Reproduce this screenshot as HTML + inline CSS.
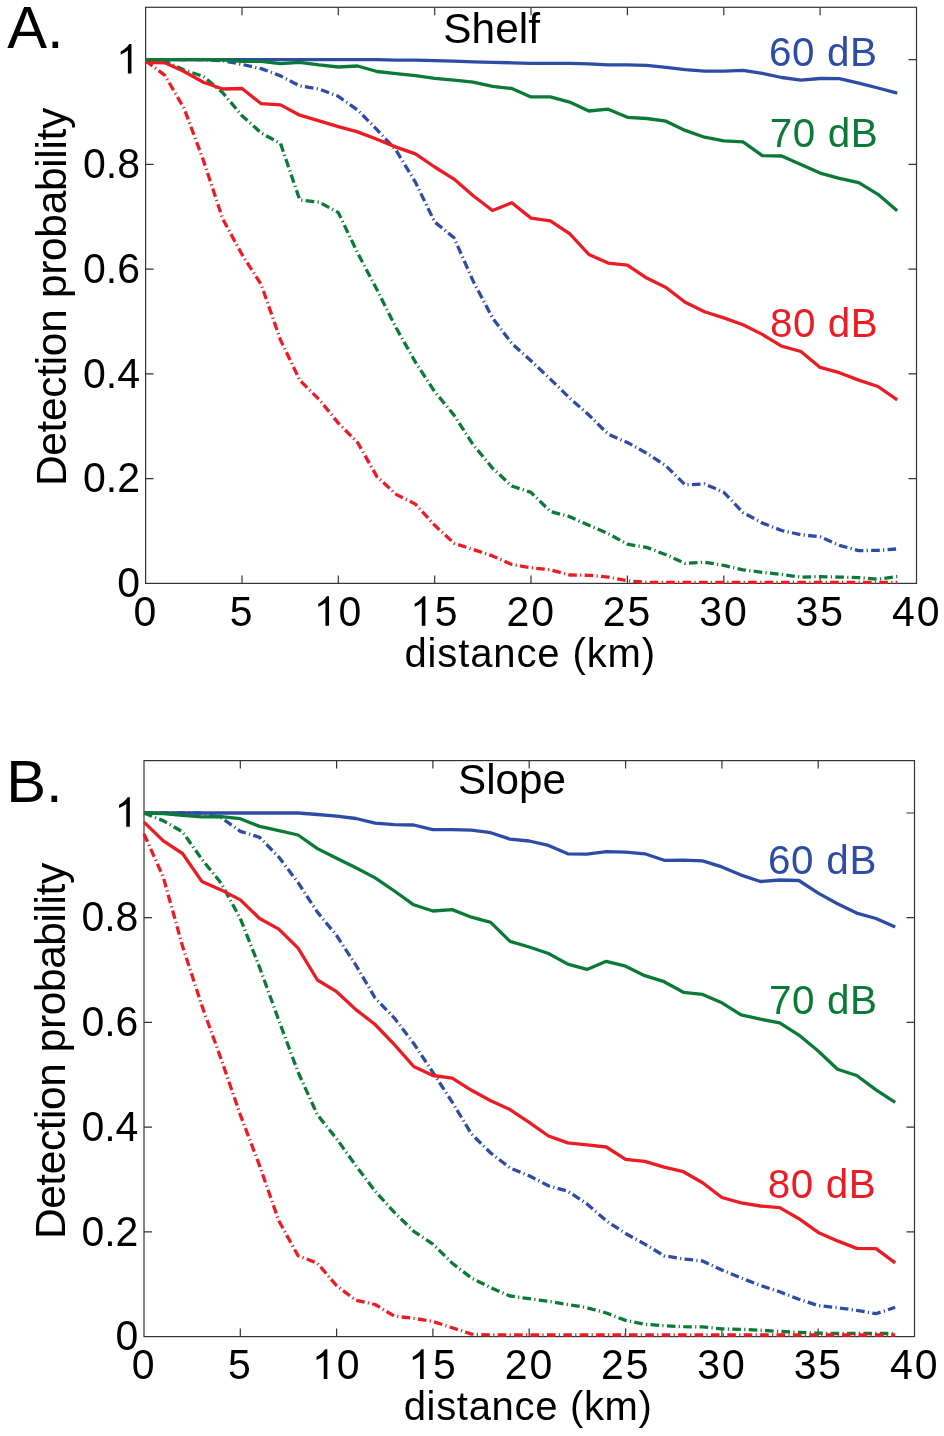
<!DOCTYPE html>
<html><head><meta charset="utf-8"><style>
html,body{margin:0;padding:0;background:#fff;}
svg{display:block;will-change:transform;font-family:'Liberation Sans',sans-serif}
</style></head><body>
<svg width="944" height="1436" viewBox="0 0 944 1436">
<rect width="944" height="1436" fill="#fff"/>
<rect x="145.6" y="7.3" width="770.9" height="576.1" fill="none" stroke="#333" stroke-width="1.2"/>
<path d="M242.0 583.4V575.4M242.0 7.3V15.3M338.3 583.4V575.4M338.3 7.3V15.3M434.7 583.4V575.4M434.7 7.3V15.3M531.0 583.4V575.4M531.0 7.3V15.3M627.4 583.4V575.4M627.4 7.3V15.3M723.8 583.4V575.4M723.8 7.3V15.3M820.1 583.4V575.4M820.1 7.3V15.3M145.6 478.7H153.6M916.5 478.7H908.5M145.6 373.9H153.6M916.5 373.9H908.5M145.6 269.2H153.6M916.5 269.2H908.5M145.6 164.4H153.6M916.5 164.4H908.5M145.6 59.7H153.6M916.5 59.7H908.5" stroke="#333" stroke-width="1.2" fill="none"/>
<polyline points="145.6,59.7 164.9,59.7 184.1,59.7 203.4,59.7 222.7,60.7 242.0,64.4 261.2,68.6 280.5,75.9 299.8,85.9 319.1,89.0 338.3,96.3 357.6,110.0 376.9,129.6 396.1,150.3 415.4,182.2 434.7,222.0 454.0,237.7 473.2,281.2 492.5,317.9 511.8,343.5 531.0,360.8 550.3,379.1 569.6,398.0 588.9,415.1 608.1,434.1 627.4,442.5 646.7,453.2 666.0,465.9 685.2,484.9 704.5,483.9 723.8,492.3 743.0,512.5 762.3,523.0 781.6,530.5 800.9,534.7 820.1,536.8 839.4,545.3 858.7,550.6 878.0,550.4 897.2,548.9" fill="none" stroke="#2e4ca5" stroke-width="3.3" stroke-dasharray="8.6 3.3 1.2 3.3" stroke-linejoin="round"/>
<polyline points="145.6,59.7 164.9,61.2 184.1,70.1 203.4,76.4 222.7,92.7 242.0,115.7 261.2,133.0 280.5,143.5 299.8,200.0 319.1,202.1 338.3,212.6 357.6,252.9 376.9,289.6 396.1,327.8 415.4,362.1 434.7,391.7 454.0,415.1 473.2,444.8 492.5,468.1 511.8,486.0 531.0,492.4 550.3,511.4 569.6,516.7 588.9,525.3 608.1,533.6 627.4,544.2 646.7,547.4 666.0,554.8 685.2,563.3 704.5,562.2 723.8,565.4 743.0,569.8 762.3,572.4 781.6,574.5 800.9,577.1 820.1,576.6 839.4,577.1 858.7,577.6 878.0,579.2 897.2,576.6" fill="none" stroke="#0b7a36" stroke-width="3.3" stroke-dasharray="8.6 3.3 1.2 3.3" stroke-linejoin="round"/>
<polyline points="145.6,60.7 164.9,75.4 184.1,108.4 203.4,160.4 222.7,218.9 242.0,254.5 261.2,284.6 280.5,340.0 299.8,380.3 319.1,399.4 338.3,423.1 357.6,442.5 376.9,476.6 396.1,494.4 415.4,504.1 434.7,525.3 454.0,543.2 473.2,549.5 492.5,555.9 511.8,564.4 531.0,567.8 550.3,569.8 569.6,575.0 588.9,575.3 608.1,577.1 627.4,580.8 646.7,582.4 666.0,582.4 685.2,582.4 704.5,582.4 723.8,582.4 743.0,582.4 762.3,582.4 781.6,582.4 800.9,582.4 820.1,582.4 839.4,582.4 858.7,582.4 878.0,582.4 897.2,582.4" fill="none" stroke="#eb1c24" stroke-width="3.3" stroke-dasharray="8.6 3.3 1.2 3.3" stroke-linejoin="round"/>
<polyline points="145.6,59.7 164.9,59.7 184.1,59.7 203.4,59.7 222.7,59.7 242.0,59.7 261.2,59.7 280.5,59.7 299.8,59.7 319.1,59.7 338.3,59.7 357.6,59.7 376.9,59.7 396.1,60.2 415.4,60.2 434.7,60.7 454.0,61.2 473.2,61.8 492.5,62.3 511.8,62.8 531.0,63.3 550.3,63.3 569.6,63.3 588.9,63.9 608.1,64.9 627.4,64.9 646.7,65.4 666.0,67.3 685.2,69.6 704.5,71.2 723.8,71.2 743.0,70.4 762.3,73.3 781.6,77.5 800.9,80.1 820.1,78.5 839.4,78.7 858.7,83.2 878.0,88.0 897.2,93.2" fill="none" stroke="#2e4ca5" stroke-width="3.3" stroke-linejoin="round"/>
<polyline points="145.6,62.3 164.9,62.8 184.1,71.5 203.4,82.2 222.7,89.0 242.0,88.5 261.2,103.7 280.5,104.9 299.8,115.2 319.1,120.9 338.3,126.7 357.6,131.9 376.9,139.3 396.1,147.1 415.4,153.9 434.7,167.0 454.0,179.1 473.2,195.8 492.5,210.5 511.8,202.7 531.0,218.1 550.3,220.8 569.6,233.6 588.9,254.5 608.1,263.1 627.4,265.2 646.7,278.1 666.0,287.5 685.2,302.2 704.5,311.7 723.8,317.9 743.0,324.7 762.3,334.4 781.6,346.2 800.9,351.5 820.1,367.4 839.4,372.7 858.7,380.1 878.0,386.5 897.2,399.8" fill="none" stroke="#eb1c24" stroke-width="3.3" stroke-linejoin="round"/>
<polyline points="145.6,59.7 164.9,59.7 184.1,59.7 203.4,59.7 222.7,59.9 242.0,61.4 261.2,61.4 280.5,63.6 299.8,62.3 319.1,64.9 338.3,67.0 357.6,66.0 376.9,71.5 396.1,73.6 415.4,75.6 434.7,78.3 454.0,80.1 473.2,82.2 492.5,86.4 511.8,88.5 531.0,96.9 550.3,96.9 569.6,102.1 588.9,111.0 608.1,109.2 627.4,117.3 646.7,118.5 666.0,121.2 685.2,130.4 704.5,137.2 723.8,140.9 743.0,141.9 762.3,155.7 781.6,156.0 800.9,164.6 820.1,173.1 839.4,178.4 858.7,182.7 878.0,194.3 897.2,210.8" fill="none" stroke="#0b7a36" stroke-width="3.3" stroke-linejoin="round"/>
<text transform="translate(133.40 625.70) scale(1 1.040)" font-size="41.00">0</text>
<text transform="translate(229.76 625.70) scale(1 1.040)" font-size="41.00">5</text>
<path transform="translate(313.77 625.70) scale(0.02002 -0.02082)" d="M763 0L583 0L583 1110C500 1030 380 960 223 905L223 1060C360 1125 540 1260 651 1420L763 1420Z"/><text transform="translate(338.47 625.70) scale(1 1.040)" font-size="41.00">0</text>
<path transform="translate(410.13 625.70) scale(0.02002 -0.02082)" d="M763 0L583 0L583 1110C500 1030 380 960 223 905L223 1060C360 1125 540 1260 651 1420L763 1420Z"/><text transform="translate(434.84 625.70) scale(1 1.040)" font-size="41.00">5</text>
<text transform="translate(506.50 625.70) scale(1 1.040)" font-size="41.00">2</text><text transform="translate(531.20 625.70) scale(1 1.040)" font-size="41.00">0</text>
<text transform="translate(602.86 625.70) scale(1 1.040)" font-size="41.00">2</text><text transform="translate(627.56 625.70) scale(1 1.040)" font-size="41.00">5</text>
<text transform="translate(699.22 625.70) scale(1 1.040)" font-size="41.00">3</text><text transform="translate(723.93 625.70) scale(1 1.040)" font-size="41.00">0</text>
<text transform="translate(795.58 625.70) scale(1 1.040)" font-size="41.00">3</text><text transform="translate(820.29 625.70) scale(1 1.040)" font-size="41.00">5</text>
<text transform="translate(891.95 625.70) scale(1 1.040)" font-size="41.00">4</text><text transform="translate(916.65 625.70) scale(1 1.040)" font-size="41.00">0</text>
<text transform="translate(117.20 597.20) scale(1 1.040)" font-size="41.00">0</text>
<text transform="translate(83.00 492.45) scale(1 1.040)" font-size="41.00">0</text><text transform="translate(105.81 492.45) scale(1 1.040)" font-size="41.00">.</text><text transform="translate(117.20 492.45) scale(1 1.040)" font-size="41.00">2</text>
<text transform="translate(83.00 387.71) scale(1 1.040)" font-size="41.00">0</text><text transform="translate(105.81 387.71) scale(1 1.040)" font-size="41.00">.</text><text transform="translate(117.20 387.71) scale(1 1.040)" font-size="41.00">4</text>
<text transform="translate(83.00 282.96) scale(1 1.040)" font-size="41.00">0</text><text transform="translate(105.81 282.96) scale(1 1.040)" font-size="41.00">.</text><text transform="translate(117.20 282.96) scale(1 1.040)" font-size="41.00">6</text>
<text transform="translate(83.00 178.22) scale(1 1.040)" font-size="41.00">0</text><text transform="translate(105.81 178.22) scale(1 1.040)" font-size="41.00">.</text><text transform="translate(117.20 178.22) scale(1 1.040)" font-size="41.00">8</text>
<path transform="translate(116.20 73.47) scale(0.02002 -0.02082)" d="M763 0L583 0L583 1110C500 1030 380 960 223 905L223 1060C360 1125 540 1260 651 1420L763 1420Z"/>
<text transform="translate(404.40 666.50) scale(1 1.000)" font-size="40.00" textLength="250.66" fill="#000">distance (km)</text>
<text transform="translate(66.20 486.11) rotate(-90) scale(1 1.000)" x="0" y="0" font-size="42.50" textLength="378.45">Detection probability</text>
<text transform="translate(7.25 48.20) scale(1 1.000)" font-size="59.70" fill="#000">A.</text>
<text transform="translate(443.29 43.30) scale(1 1.000)" font-size="42.40" fill="#000">Shelf</text>
<text transform="translate(768.98 66.30) scale(1 1.000)" font-size="40.40" textLength="108.07" fill="#2e4ca5">60 dB</text>
<text transform="translate(769.68 146.60) scale(1 1.000)" font-size="40.40" textLength="108.07" fill="#0b7a36">70 dB</text>
<text transform="translate(769.98 336.60) scale(1 1.000)" font-size="40.40" textLength="107.77" fill="#eb1c24">80 dB</text>
<rect x="144.0" y="760.6" width="770.5" height="576.0" fill="none" stroke="#333" stroke-width="1.2"/>
<path d="M240.3 1336.6V1328.6M240.3 760.6V768.6M336.6 1336.6V1328.6M336.6 760.6V768.6M432.9 1336.6V1328.6M432.9 760.6V768.6M529.2 1336.6V1328.6M529.2 760.6V768.6M625.6 1336.6V1328.6M625.6 760.6V768.6M721.9 1336.6V1328.6M721.9 760.6V768.6M818.2 1336.6V1328.6M818.2 760.6V768.6M144.0 1231.9H152.0M914.5 1231.9H906.5M144.0 1127.1H152.0M914.5 1127.1H906.5M144.0 1022.4H152.0M914.5 1022.4H906.5M144.0 917.7H152.0M914.5 917.7H906.5M144.0 813.0H152.0M914.5 813.0H906.5" stroke="#333" stroke-width="1.2" fill="none"/>
<polyline points="144.0,813.0 163.3,813.0 182.5,813.0 201.8,813.0 221.1,817.7 240.3,831.3 259.6,837.3 278.8,857.1 298.1,882.6 317.4,912.1 336.6,935.5 355.9,965.2 375.1,998.0 394.4,1018.1 413.7,1043.4 432.9,1072.4 452.2,1102.1 471.5,1134.0 490.7,1153.0 510.0,1167.9 529.2,1175.8 548.5,1185.8 567.8,1191.2 587.0,1203.9 606.3,1220.8 625.6,1233.5 644.8,1244.1 664.1,1255.8 683.4,1258.9 702.6,1261.0 721.9,1270.1 741.1,1278.0 760.4,1285.4 779.7,1291.8 798.9,1299.2 818.2,1305.6 837.5,1307.7 856.7,1310.3 876.0,1313.7 895.2,1307.3" fill="none" stroke="#2e4ca5" stroke-width="3.3" stroke-dasharray="8.6 3.3 1.2 3.3" stroke-linejoin="round"/>
<polyline points="144.0,813.0 163.3,820.8 182.5,831.8 201.8,859.2 221.1,883.1 240.3,918.5 259.6,967.4 278.8,1020.3 298.1,1072.2 317.4,1114.8 336.6,1138.7 355.9,1165.7 375.1,1191.2 394.4,1212.4 413.7,1231.3 432.9,1244.1 452.2,1263.2 471.5,1278.0 490.7,1287.6 510.0,1296.0 529.2,1298.7 548.5,1301.4 567.8,1304.5 587.0,1307.7 606.3,1313.0 625.6,1320.4 644.8,1324.2 664.1,1325.7 683.4,1326.7 702.6,1326.9 721.9,1328.9 741.1,1329.3 760.4,1330.2 779.7,1331.4 798.9,1332.4 818.2,1333.2 837.5,1333.5 856.7,1333.5 876.0,1333.5 895.2,1333.5" fill="none" stroke="#0b7a36" stroke-width="3.3" stroke-dasharray="8.6 3.3 1.2 3.3" stroke-linejoin="round"/>
<polyline points="144.0,833.9 163.3,877.2 182.5,946.1 201.8,1005.4 221.1,1059.1 240.3,1114.8 259.6,1165.7 278.8,1220.8 298.1,1255.8 317.4,1263.2 336.6,1285.8 355.9,1300.3 375.1,1304.5 394.4,1316.2 413.7,1318.3 432.9,1321.5 452.2,1327.8 471.5,1334.1 490.7,1335.0 510.0,1335.0 529.2,1335.0 548.5,1335.0 567.8,1335.0 587.0,1335.0 606.3,1335.0 625.6,1335.0 644.8,1335.0 664.1,1335.0 683.4,1335.0 702.6,1335.0 721.9,1335.0 741.1,1335.0 760.4,1335.0 779.7,1335.0 798.9,1335.0 818.2,1335.0 837.5,1335.0 856.7,1335.0 876.0,1335.0 895.2,1335.0" fill="none" stroke="#eb1c24" stroke-width="3.3" stroke-dasharray="8.6 3.3 1.2 3.3" stroke-linejoin="round"/>
<polyline points="144.0,813.0 163.3,813.0 182.5,813.0 201.8,813.0 221.1,813.0 240.3,813.0 259.6,813.0 278.8,813.0 298.1,813.0 317.4,814.5 336.6,816.1 355.9,818.5 375.1,823.2 394.4,824.6 413.7,825.0 432.9,829.7 452.2,829.7 471.5,830.2 490.7,832.7 510.0,839.1 529.2,841.0 548.5,845.4 567.8,853.8 587.0,854.1 606.3,851.7 625.6,852.2 644.8,853.8 664.1,860.3 683.4,860.1 702.6,860.9 721.9,866.9 741.1,875.1 760.4,881.5 779.7,880.0 798.9,880.5 818.2,893.1 837.5,903.7 856.7,913.1 876.0,918.5 895.2,927.0" fill="none" stroke="#2e4ca5" stroke-width="3.3" stroke-linejoin="round"/>
<polyline points="144.0,822.1 163.3,840.9 182.5,853.5 201.8,881.4 221.1,889.9 240.3,899.9 259.6,918.5 278.8,929.1 298.1,948.2 317.4,980.0 336.6,991.7 355.9,1009.6 375.1,1024.5 394.4,1044.6 413.7,1066.5 432.9,1075.5 452.2,1078.1 471.5,1090.3 490.7,1100.8 510.0,1109.6 529.2,1122.3 548.5,1136.0 567.8,1142.9 587.0,1144.9 606.3,1147.0 625.6,1159.3 644.8,1161.4 664.1,1167.2 683.4,1171.7 702.6,1182.7 721.9,1197.5 741.1,1202.8 760.4,1206.0 779.7,1207.6 798.9,1218.7 818.2,1232.4 837.5,1240.9 856.7,1248.4 876.0,1248.6 895.2,1262.8" fill="none" stroke="#eb1c24" stroke-width="3.3" stroke-linejoin="round"/>
<polyline points="144.0,813.0 163.3,813.6 182.5,815.3 201.8,816.9 221.1,816.6 240.3,818.7 259.6,826.4 278.8,830.6 298.1,835.0 317.4,848.6 336.6,858.3 355.9,867.7 375.1,877.9 394.4,891.0 413.7,904.8 432.9,911.0 452.2,909.6 471.5,917.2 490.7,922.4 510.0,941.4 529.2,947.0 548.5,953.5 567.8,964.1 587.0,969.4 606.3,961.3 625.6,966.2 644.8,975.7 664.1,981.7 683.4,992.3 702.6,994.4 721.9,1002.8 741.1,1014.9 760.4,1019.2 779.7,1022.8 798.9,1035.1 818.2,1051.0 837.5,1069.2 856.7,1075.5 876.0,1089.8 895.2,1102.3" fill="none" stroke="#0b7a36" stroke-width="3.3" stroke-linejoin="round"/>
<text transform="translate(131.80 1378.90) scale(1 1.040)" font-size="41.00">0</text>
<text transform="translate(228.11 1378.90) scale(1 1.040)" font-size="41.00">5</text>
<path transform="translate(312.07 1378.90) scale(0.02002 -0.02082)" d="M763 0L583 0L583 1110C500 1030 380 960 223 905L223 1060C360 1125 540 1260 651 1420L763 1420Z"/><text transform="translate(336.77 1378.90) scale(1 1.040)" font-size="41.00">0</text>
<path transform="translate(408.38 1378.90) scale(0.02002 -0.02082)" d="M763 0L583 0L583 1110C500 1030 380 960 223 905L223 1060C360 1125 540 1260 651 1420L763 1420Z"/><text transform="translate(433.09 1378.90) scale(1 1.040)" font-size="41.00">5</text>
<text transform="translate(504.70 1378.90) scale(1 1.040)" font-size="41.00">2</text><text transform="translate(529.40 1378.90) scale(1 1.040)" font-size="41.00">0</text>
<text transform="translate(601.01 1378.90) scale(1 1.040)" font-size="41.00">2</text><text transform="translate(625.71 1378.90) scale(1 1.040)" font-size="41.00">5</text>
<text transform="translate(697.32 1378.90) scale(1 1.040)" font-size="41.00">3</text><text transform="translate(722.03 1378.90) scale(1 1.040)" font-size="41.00">0</text>
<text transform="translate(793.63 1378.90) scale(1 1.040)" font-size="41.00">3</text><text transform="translate(818.34 1378.90) scale(1 1.040)" font-size="41.00">5</text>
<text transform="translate(889.95 1378.90) scale(1 1.040)" font-size="41.00">4</text><text transform="translate(914.65 1378.90) scale(1 1.040)" font-size="41.00">0</text>
<text transform="translate(115.60 1350.40) scale(1 1.040)" font-size="41.00">0</text>
<text transform="translate(81.40 1245.67) scale(1 1.040)" font-size="41.00">0</text><text transform="translate(104.21 1245.67) scale(1 1.040)" font-size="41.00">.</text><text transform="translate(115.60 1245.67) scale(1 1.040)" font-size="41.00">2</text>
<text transform="translate(81.40 1140.95) scale(1 1.040)" font-size="41.00">0</text><text transform="translate(104.21 1140.95) scale(1 1.040)" font-size="41.00">.</text><text transform="translate(115.60 1140.95) scale(1 1.040)" font-size="41.00">4</text>
<text transform="translate(81.40 1036.22) scale(1 1.040)" font-size="41.00">0</text><text transform="translate(104.21 1036.22) scale(1 1.040)" font-size="41.00">.</text><text transform="translate(115.60 1036.22) scale(1 1.040)" font-size="41.00">6</text>
<text transform="translate(81.40 931.49) scale(1 1.040)" font-size="41.00">0</text><text transform="translate(104.21 931.49) scale(1 1.040)" font-size="41.00">.</text><text transform="translate(115.60 931.49) scale(1 1.040)" font-size="41.00">8</text>
<path transform="translate(114.60 826.76) scale(0.02002 -0.02082)" d="M763 0L583 0L583 1110C500 1030 380 960 223 905L223 1060C360 1125 540 1260 651 1420L763 1420Z"/>
<text transform="translate(403.70 1419.50) scale(1 1.000)" font-size="40.00" textLength="248.26" fill="#000">distance (km)</text>
<text transform="translate(64.50 1239.11) rotate(-90) scale(1 1.000)" x="0" y="0" font-size="42.50" textLength="376.35">Detection probability</text>
<text transform="translate(6.17 801.50) scale(1 1.000)" font-size="59.70" fill="#000">B.</text>
<text transform="translate(458.10 794.20) scale(1 1.000)" font-size="42.20" fill="#000">Slope</text>
<text transform="translate(767.88 874.30) scale(1 1.000)" font-size="40.40" textLength="108.47" fill="#2e4ca5">60 dB</text>
<text transform="translate(768.98 1014.30) scale(1 1.000)" font-size="40.40" textLength="108.07" fill="#0b7a36">70 dB</text>
<text transform="translate(767.68 1198.30) scale(1 1.000)" font-size="40.40" textLength="107.97" fill="#eb1c24">80 dB</text>
</svg>
</body></html>
